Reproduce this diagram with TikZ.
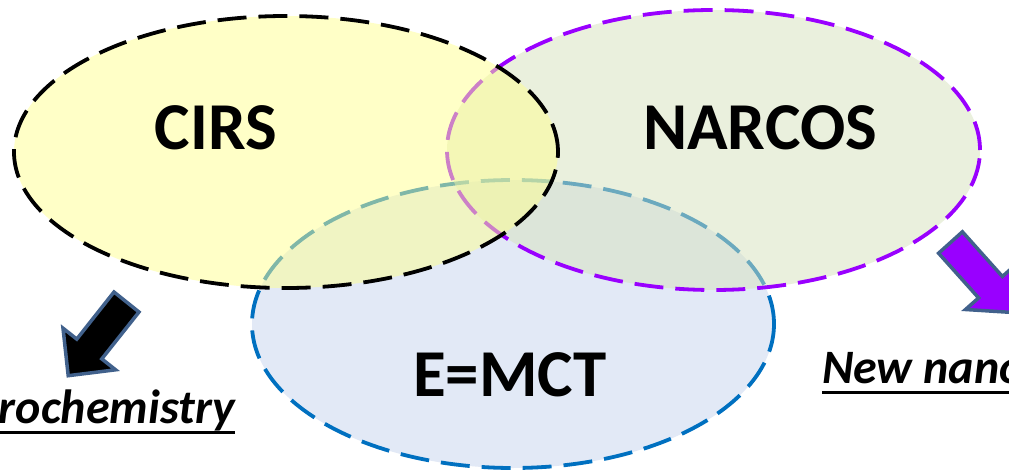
\documentclass[tikz,border=0pt]{standalone}
\usepackage{fontspec}
\setmainfont{Carlito}

\definecolor{cirsfill}{RGB}{255,255,145}
\definecolor{narcosfill}{RGB}{215,227,189}
\definecolor{emctfill}{RGB}{226,233,246}
\definecolor{narcosline}{RGB}{153,0,255}
\definecolor{emctline}{RGB}{0,112,192}
\definecolor{arrowedge}{RGB}{65,97,140}
\definecolor{arrowviolet}{RGB}{153,0,255}

\begin{document}
\begin{tikzpicture}[x=1pt,y=-1pt,
  ring/.style={line width=3.8pt, dash pattern=on 29pt off 12pt},
  title/.style={font=\fontsize{67}{80}\selectfont\bfseries, inner sep=0pt},
  caption/.style={font=\fontsize{48}{58}\selectfont\bfseries\itshape, inner sep=0pt},
  underbar/.style={line width=3pt},
  blockarrow/.style={draw=arrowedge, line width=3.5pt, line join=miter}]
\clip (0,0) rectangle (1009,473);
\fill[white] (0,0) rectangle (1009,473);

% the three overlapping sets, bottom one first
\draw[ring, draw=emctline, fill=emctfill]
  (513,324) ellipse [x radius=261pt, y radius=144pt];
\draw[ring, draw=narcosline, fill=narcosfill, fill opacity=0.5]
  (713.5,150) ellipse [x radius=266.5pt, y radius=140pt];
\draw[ring, draw=black, fill=cirsfill, fill opacity=0.5]
  (286,152) ellipse [x radius=272pt, y radius=136pt];

% set labels
\node[title] (cirs) at (216,128) {CIRS};
\node[title] (narcos) at (760,128) {NARCOS};
\node[title] (emct) at (510,375) {E=MCT};

% outcomes, underlined
\node[caption, anchor=base east] (chem) at (235,423) {rochemistry};
\node[caption, anchor=base west] (nano) at (822,383) {New nano};
\draw[underbar] ([yshift=-9pt]chem.base west) -- ([yshift=-9pt]chem.base east);
\draw[underbar] ([yshift=-9pt]nano.base west) -- ([yshift=-9pt]nano.base east);

% block arrows
\filldraw[blockarrow, fill=black]
  (114,292) -- (139,312) -- (101.8,358.9) -- (115.6,369.8)
  -- (68.2,375.7) -- (63,328.2) -- (76.8,339.1) -- cycle;
\filldraw[blockarrow, fill=arrowviolet]
  (962.4,231.8) -- (1002.4,276.5) -- (1015.5,264.9) -- (1013.1,312.5)
  -- (965.5,309.5) -- (978.6,297.9) -- (938.6,253.2) -- cycle;
\end{tikzpicture}
\end{document}
